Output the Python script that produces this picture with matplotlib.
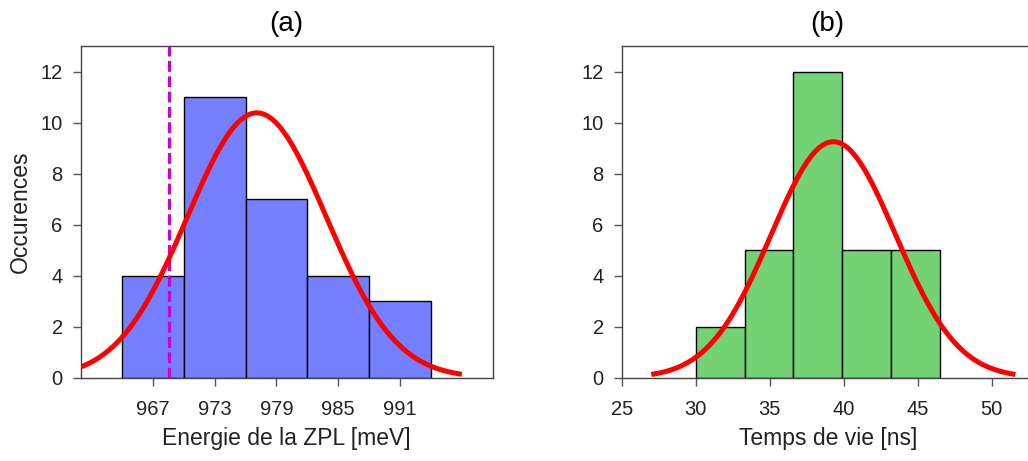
import numpy as np
import matplotlib.pyplot as plt

plt.rcParams['font.family'] = ['Liberation Sans', 'DejaVu Sans']

# (a) ZPL energy histogram
zpl_edges = [964, 970, 976, 982, 988, 994]
zpl_counts = [4, 11, 7, 4, 3]
zpl_ticks = [967, 973, 979, 985, 991]
zpl_fit = dict(amp=10.38, mu=977.1, sigma=6.75, lo=957.2, hi=997.0)
zpl_marker = 968.55

# (b) lifetime histogram
tau_edges = [30.0, 33.3, 36.6, 39.9, 43.2, 46.5]
tau_counts = [2, 5, 12, 5, 5]
tau_ticks = [25, 30, 35, 40, 45, 50]
tau_fit = dict(amp=9.25, mu=39.3, sigma=4.2, lo=27.0, hi=51.6)

W, H = 1028, 461
fig = plt.figure(figsize=(W / 100, H / 100), dpi=100)
ax1 = fig.add_axes([80.7 / W, 1 - 377.7 / H, 412 / W, 331.7 / H])
ax2 = fig.add_axes([621.7 / W, 1 - 377.7 / H, 412 / W, 331.7 / H])

TXT = '#222222'


def style(ax):
    for s in ax.spines.values():
        s.set_color('#444444')
        s.set_linewidth(1.0)
    ax.tick_params(direction='out', length=6, width=1, color='#555555',
                   labelsize=14.5, labelcolor=TXT, pad=7,
                   top=False, right=False)
    ax.tick_params(axis='x', pad=10)
    ax.set_ylim(0, 13)
    ax.set_yticks(range(0, 13, 2))


def gauss(p, n=300):
    x = np.linspace(p['lo'], p['hi'], n)
    return x, p['amp'] * np.exp(-(x - p['mu']) ** 2 / (2 * p['sigma'] ** 2))


# panel (a)
ax1.bar(zpl_edges[:-1], zpl_counts, width=np.diff(zpl_edges), align='edge',
        color='#7480ff', edgecolor='black', linewidth=1.0, zorder=2)
ax1.axvline(zpl_marker, color='#cc00cc', lw=2.3, linestyle=(0, (3.4, 1.4)), zorder=3)
x, y = gauss(zpl_fit)
ax1.plot(x, y, color='#ff0000', lw=3.6, zorder=4, solid_capstyle='butt')
ax1.set_xlim(960, 1000)
ax1.set_xticks(zpl_ticks)
style(ax1)
ax1.set_xlabel('Energie de la ZPL [meV]', fontsize=16.5, color=TXT, labelpad=6)
ax1.set_ylabel('Occurences', fontsize=16.5, color=TXT, labelpad=6)
ax1.set_title('(a)', fontsize=20, color='black', pad=11)

# panel (b)
ax2.bar(tau_edges[:-1], tau_counts, width=np.diff(tau_edges), align='edge',
        color='#73d273', edgecolor='black', linewidth=1.0, zorder=2)
x, y = gauss(tau_fit)
ax2.plot(x, y, color='#ff0000', lw=3.6, zorder=4, solid_capstyle='butt')
ax2.set_xlim(25, 25 + 412 / 74 * 5)
ax2.set_xticks(tau_ticks)
style(ax2)
ax2.set_xlabel('Temps de vie [ns]', fontsize=16.5, color=TXT, labelpad=6)
ax2.set_title('(b)', fontsize=20, color='black', pad=11)
# title centred on the visible part of the panel
ax2.title.set_position((((621.7 + 1032) / 2 - 621.7) / 412, 1.0))

fig.savefig('out.png', dpi=100)
